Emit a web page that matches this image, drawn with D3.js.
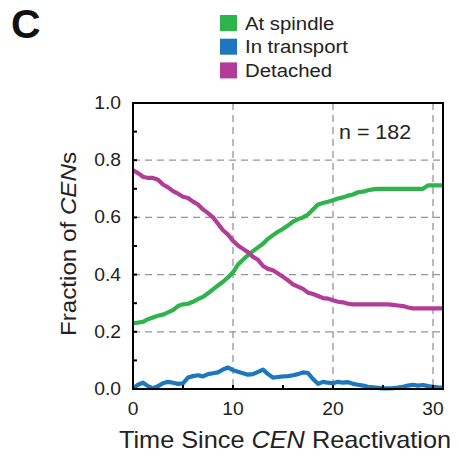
<!DOCTYPE html>
<html>
<head>
<meta charset="utf-8">
<script src="https://cdnjs.cloudflare.com/ajax/libs/d3/7.8.5/d3.min.js"></script>
<style>
  body { margin: 0; background: #fff; }
  svg { font-family: "Liberation Sans", Arial, sans-serif; }
</style>
</head>
<body>
<div id="chart"></div>
<script>
// time points (min), every 0.5 min
const times = d3.range(0, 31.01, 0.5);

const atSpindle = [
  0.230, 0.232, 0.235, 0.244, 0.250, 0.256, 0.260, 0.268, 0.276, 0.290,
  0.296, 0.298, 0.305, 0.314, 0.322, 0.335, 0.348, 0.362, 0.375, 0.390,
  0.408, 0.435, 0.452, 0.468, 0.482, 0.495, 0.508, 0.525, 0.538, 0.550,
  0.560, 0.572, 0.585, 0.594, 0.600, 0.610, 0.628, 0.645, 0.650, 0.655,
  0.660, 0.666, 0.670, 0.676, 0.680, 0.688, 0.690, 0.695, 0.698, 0.700,
  0.700, 0.700, 0.700, 0.700, 0.700, 0.700, 0.700, 0.700, 0.700, 0.712,
  0.712, 0.712, 0.712
];

const inTransport = [
  0.002, 0.015, 0.022, 0.010, 0.003, 0.010, 0.020, 0.025, 0.022, 0.018,
  0.020, 0.040, 0.045, 0.048, 0.044, 0.052, 0.055, 0.058, 0.068, 0.075,
  0.066, 0.060, 0.055, 0.050, 0.052, 0.060, 0.068, 0.052, 0.040, 0.042,
  0.044, 0.045, 0.048, 0.052, 0.058, 0.056, 0.035, 0.018, 0.025, 0.022,
  0.020, 0.025, 0.022, 0.024, 0.018, 0.015, 0.012, 0.008, 0.006, 0.004,
  0.002, 0.002, 0.003, 0.005, 0.008, 0.012, 0.015, 0.012, 0.014, 0.010,
  0.008, 0.006, 0.005
];

const detached = [
  0.765, 0.755, 0.742, 0.738, 0.738, 0.732, 0.715, 0.705, 0.692, 0.683,
  0.672, 0.668, 0.655, 0.645, 0.628, 0.615, 0.600, 0.578, 0.555, 0.540,
  0.518, 0.502, 0.490, 0.478, 0.462, 0.452, 0.430, 0.420, 0.415, 0.404,
  0.392, 0.380, 0.366, 0.358, 0.350, 0.337, 0.332, 0.325, 0.318, 0.316,
  0.310, 0.305, 0.303, 0.298, 0.296, 0.296, 0.296, 0.296, 0.296, 0.296,
  0.296, 0.296, 0.294, 0.292, 0.290, 0.285, 0.282, 0.282, 0.282, 0.282,
  0.282, 0.282, 0.282
];

const seriesNames = ['At spindle', 'In transport', 'Detached'];
const seriesColors = ['#2db44b', '#1b78bd', '#b23c98'];
const seriesData = [atSpindle, inTransport, detached];

const xTicks = [0, 10, 20, 30];
const xMinor = [5, 15, 25];
const yTicks = [0, 0.2, 0.4, 0.6, 0.8, 1.0];
const yMinor = [0.1, 0.3, 0.5, 0.7, 0.9];

const W = 459, H = 462;
const margin = { top: 103, right: 16, bottom: 73, left: 133 };
const iw = W - margin.left - margin.right;
const ih = H - margin.top - margin.bottom;
const SX = 1.1; // the original lettering is a bit wider than Arial

const svg = d3.select('#chart').append('svg')
  .attr('width', W).attr('height', H);

// text helper: parts = [[string, italic?], ...]
function label(parent, x, y, size, anchor, parts, extra) {
  const t = parent.append('text')
    .attr('transform', `translate(${x},${y}) ${extra || ''} scale(${SX},1)`)
    .attr('text-anchor', anchor)
    .style('font-size', size + 'px')
    .attr('fill', '#222');
  parts.forEach(p => {
    t.append('tspan').style('font-style', p[1] ? 'italic' : 'normal').text(p[0]);
  });
  return t;
}

const g = svg.append('g')
  .attr('transform', `translate(${margin.left},${margin.top})`);

const x = d3.scaleLinear().domain([0, 31]).range([0, iw]);
const y = d3.scaleLinear().domain([0, 1]).range([ih, 0]);

// dashed grid
g.selectAll('.hgrid').data(yTicks.filter(d => d > 0 && d < 1)).enter()
  .append('line')
  .attr('x1', 0).attr('x2', iw)
  .attr('y1', d => y(d)).attr('y2', d => y(d))
  .attr('stroke', '#959595').attr('stroke-width', 1.3)
  .attr('stroke-dasharray', '7,5');

g.selectAll('.vgrid').data(xTicks.filter(d => d > 0)).enter()
  .append('line')
  .attr('y1', 0).attr('y2', ih)
  .attr('x1', d => x(d)).attr('x2', d => x(d))
  .attr('stroke', '#959595').attr('stroke-width', 1.3)
  .attr('stroke-dasharray', '7,5');

// lines
const line = d3.line()
  .x((d, i) => x(times[i]))
  .y(d => y(d));

seriesData.forEach((s, k) => {
  g.append('path')
    .datum(s)
    .attr('fill', 'none')
    .attr('stroke', seriesColors[k])
    .attr('stroke-width', 4.2)
    .attr('stroke-linejoin', 'round')
    .attr('d', line);
});

// frame
g.append('rect')
  .attr('x', 0).attr('y', 0).attr('width', iw).attr('height', ih)
  .attr('fill', 'none').attr('stroke', '#000').attr('stroke-width', 2);

// inward tick marks
g.selectAll('.ytick').data(yTicks.concat(yMinor)).enter()
  .append('line')
  .attr('x1', 0).attr('x2', 4)
  .attr('y1', d => y(d)).attr('y2', d => y(d))
  .attr('stroke', '#000').attr('stroke-width', 2);

g.selectAll('.xtick').data(xTicks.concat(xMinor)).enter()
  .append('line')
  .attr('x1', d => x(d)).attr('x2', d => x(d))
  .attr('y1', ih).attr('y2', ih - 4)
  .attr('stroke', '#000').attr('stroke-width', 2);

// tick labels
yTicks.forEach(v => label(g, -12, y(v) + 6, 17.5, 'end', [[d3.format('.1f')(v)]]));
xTicks.forEach(v => label(g, x(v), ih + 26, 17.5, 'middle', [[String(v)]]));

// n label
label(g, x(20.6), 36, 19.5, 'start', [['n = 182']]);

// axis titles
label(svg, margin.left + x(15.2), 448, 23, 'middle',
  [['Time Since '], ['CEN', true], [' Reactivation']]);

label(svg, 76, margin.top + ih / 2 - 2, 22, 'middle',
  [['Fraction of '], ['CEN', true], ['s']], 'rotate(-90)');

// legend
const legend = svg.append('g').attr('transform', 'translate(220,15)');
seriesNames.forEach((name, k) => {
  const row = legend.append('g').attr('transform', `translate(0,${k * 23.7})`);
  row.append('rect').attr('width', 17).attr('height', 16).attr('fill', seriesColors[k]);
  label(row, 25, 14.5, 18.5, 'start', [[name]]);
});

// panel letter
svg.append('text')
  .attr('x', 11).attr('y', 38)
  .style('font-size', '41px').style('font-weight', 'bold').attr('fill', '#111')
  .text('C');
</script>
</body>
</html>
